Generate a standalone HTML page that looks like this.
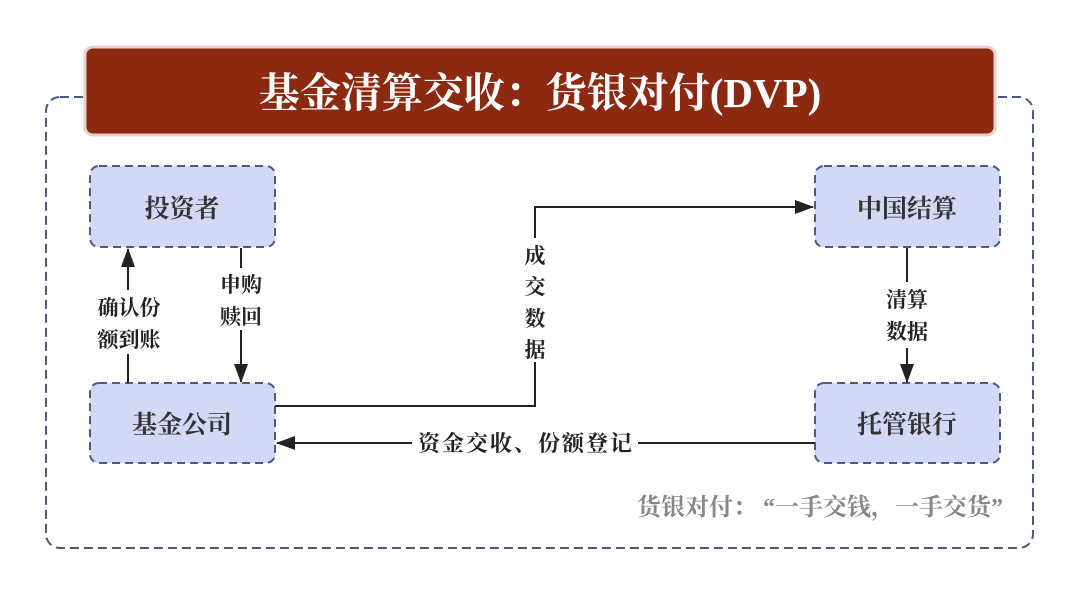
<!DOCTYPE html>
<html><head><meta charset="utf-8"><style>
body{margin:0;width:1080px;height:595px;background:#fff;overflow:hidden;}
svg text{font-family:"Liberation Serif","Noto Serif CJK SC",serif;font-weight:bold;}
</style></head><body>
<svg width="1080" height="595" viewBox="0 0 1080 595">
<defs><marker id="b" markerWidth="20" markerHeight="16" refX="18" refY="8" orient="auto" markerUnits="userSpaceOnUse"><path d="M0,1 L19,8 L0,15 Z" fill="#222"/></marker></defs>
<rect x="46" y="97" width="987" height="451" rx="14" fill="none" stroke="#4a5a80" stroke-width="2" stroke-dasharray="9,5"/>
<rect x="85" y="47" width="910" height="88" rx="8" fill="#8b2a10" stroke="#e8d0c8" stroke-width="3"/>
<text x="540" y="107" text-anchor="middle" font-size="41" fill="#fff">基金清算交收：货银对付(DVP)</text>
<g fill="#d3d8f6" stroke="#4a5a80" stroke-width="2" stroke-dasharray="8,5">
<rect x="90" y="166" width="185" height="81" rx="9"/>
<rect x="815" y="166" width="185" height="81" rx="9"/>
<rect x="90" y="383" width="185" height="80" rx="9"/>
<rect x="815" y="383" width="185" height="80" rx="9"/>
</g>
<g font-size="25" fill="#333" text-anchor="middle">
<text x="182" y="217">投资者</text><text x="907" y="217">中国结算</text>
<text x="182" y="433">基金公司</text><text x="907" y="433">托管银行</text>
</g>
<g stroke="#222" stroke-width="2" fill="none">
<line x1="128" y1="383" x2="128" y2="249" marker-end="url(#b)"/>
<line x1="241" y1="248" x2="241" y2="382" marker-end="url(#b)"/>
<polyline points="275,406 535,406 535,207 813,207" marker-end="url(#b)"/>
<line x1="907" y1="248" x2="907" y2="382" marker-end="url(#b)"/>
<line x1="815" y1="443" x2="277" y2="443" marker-end="url(#b)"/>
</g>
<g font-size="21" fill="#222" text-anchor="middle">
<rect x="90" y="290" width="78" height="64" fill="#fff"/>
<text x="129" y="315">确认份</text><text x="129" y="347">额到账</text>
<rect x="216" y="268" width="50" height="62" fill="#fff"/>
<text x="241" y="292">申购</text><text x="241" y="324">赎回</text>
<rect x="521" y="238" width="28" height="124" fill="#fff"/>
<text x="535" y="263">成</text><text x="535" y="294">交</text><text x="535" y="326">数</text><text x="535" y="357">据</text>
<rect x="412" y="428" width="226" height="30" fill="#fff"/>
<rect x="878" y="282" width="58" height="66" fill="#fff"/>
<text x="907" y="307">清算</text><text x="907" y="339">数据</text>
<text x="525" y="451" font-size="22" textLength="214" lengthAdjust="spacing">资金交收、份额登记</text>
</g>
<text x="1003" y="515" text-anchor="end" font-size="24" fill="#888">货银对付： “一手交钱，一手交货”</text>
</svg>
</body></html>
